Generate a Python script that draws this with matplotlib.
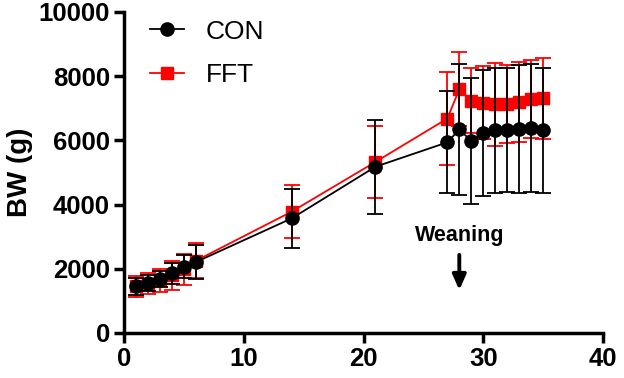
import numpy as np
import matplotlib.pyplot as plt
from matplotlib.lines import Line2D

plt.rcParams['font.family'] = ['Liberation Sans', 'DejaVu Sans']

days = [1, 2, 3, 4, 5, 6, 14, 21, 27, 28, 29, 30, 31, 32, 33, 34, 35]

con_mean = [1450, 1560, 1680, 1860, 2070, 2210, 3570, 5180,
            5940, 6340, 5980, 6240, 6320, 6320, 6350, 6380, 6320]
con_sd = [260, 240, 250, 330, 370, 520, 930, 1460,
          1590, 2040, 1960, 1960, 1950, 1930, 2000, 1990, 1950]

fft_mean = [1450, 1540, 1640, 1800, 1980, 2250, 3780, 5330,
            6680, 7590, 7240, 7180, 7130, 7130, 7200, 7300, 7310]
fft_sd = [320, 320, 360, 450, 490, 540, 830, 1120,
          1450, 1150, 1010, 1150, 1290, 1220, 1250, 1220, 1260]

fig = plt.figure(figsize=(6.24, 3.78), dpi=100)
ax = fig.add_axes([124 / 624, 45 / 378, 479 / 624, 321 / 378])

ax.errorbar(days, fft_mean, yerr=fft_sd, color='#ff0000', marker='s', ms=9,
            lw=1.3, elinewidth=1.3, capsize=6, capthick=1.3, zorder=2)
ax.errorbar(days, con_mean, yerr=con_sd, color='black', marker='o', ms=9.5,
            lw=1.3, elinewidth=1.3, capsize=6, capthick=1.3, zorder=3)

ax.annotate('', xy=(28, 1250), xytext=(28, 2520),
            arrowprops=dict(arrowstyle='-|>,head_width=0.4,head_length=0.9',
                            color='black', lw=2.8))
ax.text(28, 3050, 'Weaning', ha='center', va='center', fontsize=15.5,
        fontweight='bold')

ax.set_xlim(0, 40)
ax.set_ylim(0, 10000)
ax.set_xticks([0, 10, 20, 30, 40])
ax.set_yticks([0, 2000, 4000, 6000, 8000, 10000])
ax.set_ylabel('BW (g)', fontsize=20, fontweight='bold', labelpad=4)

for s in ['top', 'right']:
    ax.spines[s].set_visible(False)
for s in ['left', 'bottom']:
    ax.spines[s].set_linewidth(2.5)
ax.tick_params(width=2.5, length=7, labelsize=18.5, direction='out', pad=3)
for lab in ax.get_xticklabels() + ax.get_yticklabels():
    lab.set_fontweight('bold')

handles = [Line2D([], [], color='black', marker='o', ms=9.5, lw=1.3),
           Line2D([], [], color='#ff0000', marker='s', ms=9, lw=1.3)]
ax.legend(handles, ['CON', 'FFT'], loc='upper left', frameon=False,
          fontsize=19, bbox_to_anchor=(0.005, 1.05), handlelength=1.3,
          labelspacing=0.75, handletextpad=0.8)

fig.savefig('out.png', dpi=100)
